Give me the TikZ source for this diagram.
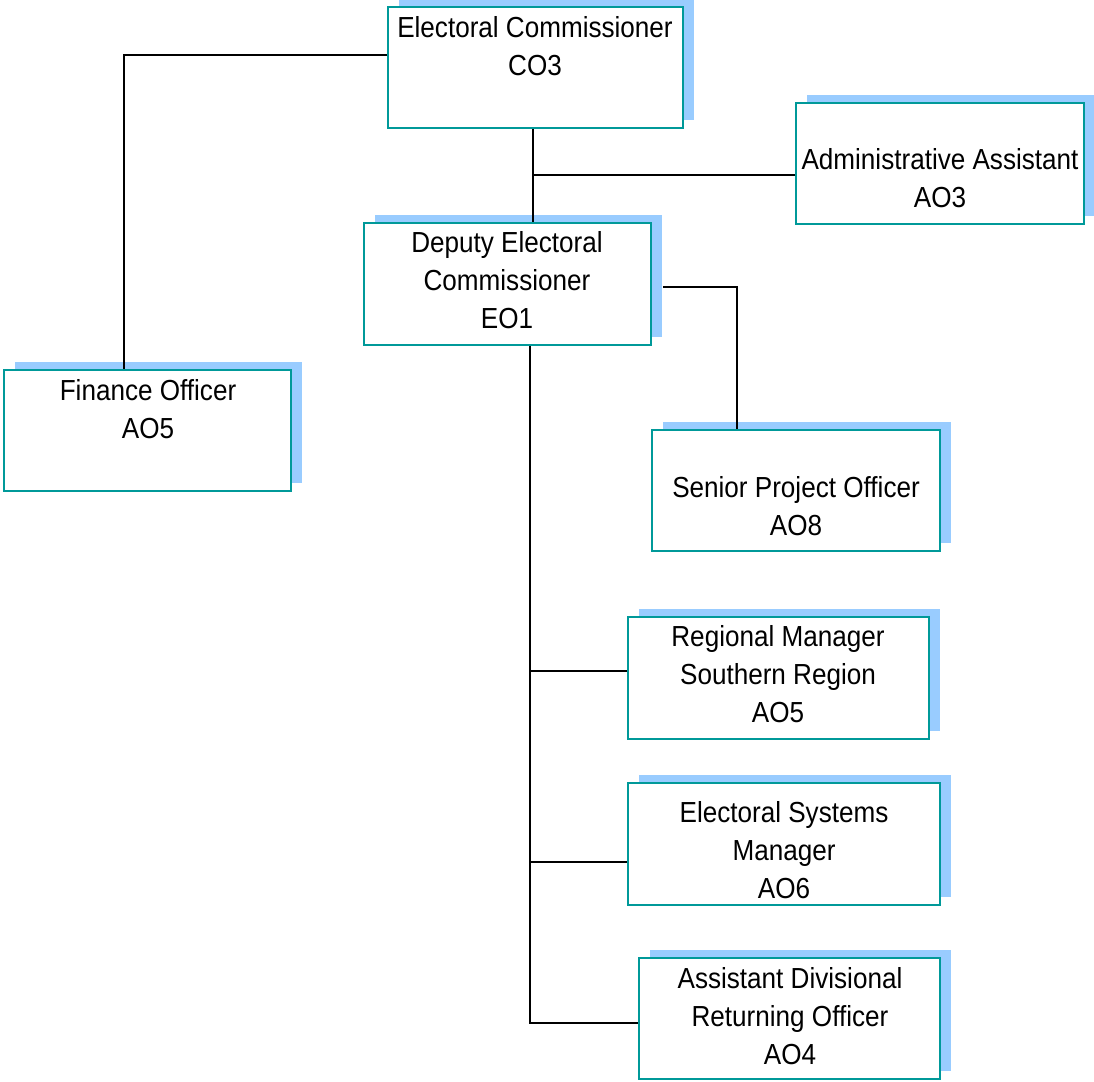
\documentclass[tikz,border=0pt]{standalone}
\usepackage{fontspec}
\setmainfont{Liberation Sans}[FakeStretch=0.9]
\usetikzlibrary{shadows, positioning, calc}
\definecolor{postteal}{RGB}{0,153,153}
\definecolor{postshadow}{RGB}{153,204,255}

\begin{document}
\begin{tikzpicture}[x=0.02cm, y=-0.02cm,
  post/.style={draw=postteal, line width=1.1pt, fill=white, rectangle, inner sep=0pt,
    minimum height=2.42cm,
    drop shadow={shadow xshift=0.22cm, shadow yshift=0.16cm, fill=postshadow, opacity=1}},
  title/.style={align=center, inner sep=0pt, font=\fontsize{16.5}{21.5}\selectfont},
  link/.style={line width=1.1pt}]
\useasboundingbox (0,0) rectangle (1094,1081);

% Boxes
\node[post, minimum width=5.9cm] (ec) at (535.5,67.5) {};
\node[post, minimum width=5.76cm] (adm) at (940,163.5) {};
\node[post, minimum width=5.74cm, minimum height=2.44cm] (dep) at (507.5,284) {};
\node[post, minimum width=5.74cm] (fin) at (147.5,430.5) {};
\node[post, minimum width=5.76cm] (sen) at (796,490.5) {};
\node[post, minimum width=6.02cm, minimum height=2.44cm] (reg) at (778.5,678) {};
\node[post, minimum width=6.24cm, minimum height=2.44cm] (sys) at (784,844) {};
\node[post, minimum width=6.02cm] (adr) at (789.5,1018.5) {};

% Titles
\node[title] (ectxt) at (535,46) {Electoral Commissioner\\CO3};
\node[title] (admtxt) at (940,178) {Administrative Assistant\\AO3};
\node[title] (deptxt) at (507,280) {Deputy Electoral\\Commissioner\\EO1};
\node[title] (fintxt) at (148,409) {Finance Officer\\AO5};
\node[title] (sentxt) at (796,506) {Senior Project Officer\\AO8};
\node[title] (regtxt) at (778,674) {Regional Manager\\Southern Region\\AO5};
\node[title] (systxt) at (784,850) {Electoral Systems\\Manager\\AO6};
\node[title] (adrtxt) at (790,1016) {Assistant Divisional\\Returning Officer\\AO4};

% Lines
\coordinate (trunk) at ([xshift=0.45cm]dep.south);
\coordinate (stem) at ([xshift=-0.05cm]ec.south);
\draw[link] ([yshift=0.25cm]ec.west) -| ([xshift=-0.47cm]fin.north);
\draw[link] (stem) -- (stem |- dep.north);
\draw[link] ([yshift=-0.23cm]adm.west) -| (stem);
\draw[link] ([xshift=0.22cm, yshift=-0.06cm]dep.east) -| ([xshift=-1.18cm]sen.north);
\draw[link] (trunk) |- ([yshift=-0.09cm]adr.west);
\draw[link] ([yshift=0.14cm]reg.west) -| (trunk);
\draw[link] ([yshift=-0.36cm]sys.west) -| (trunk);
\end{tikzpicture}
\end{document}
